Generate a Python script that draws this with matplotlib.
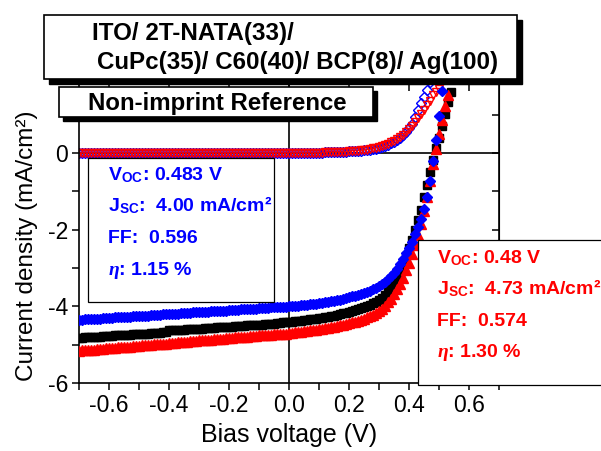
import numpy as np
import matplotlib
matplotlib.use("Agg")
import matplotlib.pyplot as plt
from matplotlib.patches import Rectangle
from matplotlib.ticker import MultipleLocator

plt.rcParams['font.family'] = ['Liberation Sans', 'DejaVu Sans']
plt.rcParams['mathtext.fontset'] = 'custom'
plt.rcParams['mathtext.rm'] = 'Liberation Sans'
plt.rcParams['mathtext.bf'] = 'Liberation Sans:bold'
plt.rcParams['mathtext.it'] = 'Liberation Serif:italic:bold'

nan = np.nan

# Bias voltage (V), 0.01 V sweep
volt = [-0.70, -0.69, -0.68, -0.67, -0.66, -0.65, -0.64, -0.63, -0.62, -0.61,
        -0.60, -0.59, -0.58, -0.57, -0.56, -0.55, -0.54, -0.53, -0.52, -0.51,
        -0.50, -0.49, -0.48, -0.47, -0.46, -0.45, -0.44, -0.43, -0.42, -0.41,
        -0.40, -0.39, -0.38, -0.37, -0.36, -0.35, -0.34, -0.33, -0.32, -0.31,
        -0.30, -0.29, -0.28, -0.27, -0.26, -0.25, -0.24, -0.23, -0.22, -0.21,
        -0.20, -0.19, -0.18, -0.17, -0.16, -0.15, -0.14, -0.13, -0.12, -0.11,
        -0.10, -0.09, -0.08, -0.07, -0.06, -0.05, -0.04, -0.03, -0.02, -0.01,
        0.00, 0.01, 0.02, 0.03, 0.04, 0.05, 0.06, 0.07, 0.08, 0.09,
        0.10, 0.11, 0.12, 0.13, 0.14, 0.15, 0.16, 0.17, 0.18, 0.19,
        0.20, 0.21, 0.22, 0.23, 0.24, 0.25, 0.26, 0.27, 0.28, 0.29,
        0.30, 0.31, 0.32, 0.33, 0.34, 0.35, 0.36, 0.37, 0.38, 0.39,
        0.40, 0.41, 0.42, 0.43, 0.44, 0.45, 0.46, 0.47, 0.48, 0.49,
        0.50, 0.51, 0.52, 0.53, 0.54]

# Current density (mA/cm2) under illumination
j_black = [-4.82, -4.82, -4.81, -4.81, -4.80, -4.80, -4.79, -4.79, -4.78, -4.78,
           -4.77, -4.77, -4.76, -4.76, -4.75, -4.75, -4.74, -4.74, -4.73, -4.73,
           -4.72, -4.72, -4.71, -4.71, -4.70, -4.70, -4.69, -4.69, -4.68, -4.67,
           -4.63, -4.63, -4.62, -4.62, -4.61, -4.61, -4.60, -4.60, -4.59, -4.59,
           -4.58, -4.58, -4.57, -4.57, -4.56, -4.56, -4.55, -4.55, -4.54, -4.54,
           -4.53, -4.53, -4.52, -4.52, -4.51, -4.51, -4.50, -4.50, -4.49, -4.49,
           -4.48, -4.48, -4.47, -4.46, -4.45, -4.45, -4.44, -4.43, -4.42, -4.42,
           -4.41, -4.40, -4.39, -4.38, -4.37, -4.36, -4.35, -4.34, -4.33, -4.32,
           -4.31, -4.30, -4.28, -4.27, -4.25, -4.24, -4.22, -4.20, -4.18, -4.17,
           -4.15, -4.13, -4.10, -4.08, -4.05, -4.02, -3.99, -3.96, -3.92, -3.88,
           -3.83, -3.77, -3.70, -3.61, -3.50, -3.38, -3.25, -3.10, -2.93, -2.70,
           -2.48, -2.27, -2.02, -1.76, -1.48, -1.15, -0.83, -0.50, -0.18, 0.12,
           0.40, 0.70, 1.02, 1.32, 1.58]

j_red = [-5.16, -5.15, -5.15, -5.14, -5.13, -5.13, -5.12, -5.11, -5.11, -5.10,
         -5.09, -5.09, -5.08, -5.07, -5.07, -5.06, -5.05, -5.05, -5.04, -5.03,
         -5.03, -5.02, -5.01, -5.01, -5.00, -4.99, -4.99, -4.98, -4.97, -4.97,
         -4.96, -4.95, -4.95, -4.94, -4.93, -4.93, -4.92, -4.91, -4.91, -4.90,
         -4.89, -4.89, -4.88, -4.87, -4.87, -4.86, -4.85, -4.85, -4.84, -4.83,
         -4.83, -4.82, -4.81, -4.81, -4.80, -4.79, -4.79, -4.78, -4.77, -4.77,
         -4.76, -4.75, -4.75, -4.74, -4.74, -4.73, -4.72, -4.72, -4.71, -4.71,
         -4.70, -4.69, -4.68, -4.67, -4.66, -4.65, -4.64, -4.63, -4.62, -4.61,
         -4.60, -4.59, -4.57, -4.56, -4.55, -4.53, -4.51, -4.50, -4.48, -4.46,
         -4.44, -4.42, -4.40, -4.38, -4.35, -4.32, -4.29, -4.26, -4.22, -4.17,
         -4.12, -4.06, -3.98, -3.90, -3.80, -3.68, -3.55, -3.42, -3.25, -3.06,
         -2.86, -2.64, -2.40, -2.14, -1.85, -1.52, -1.16, -0.74, -0.30, 0.10,
         0.50, 0.86, 1.22, 1.50, nan]

j_blue = [-4.35, -4.35, -4.34, -4.34, -4.33, -4.33, -4.32, -4.32, -4.31, -4.31,
          -4.30, -4.30, -4.29, -4.29, -4.28, -4.28, -4.27, -4.27, -4.26, -4.26,
          -4.25, -4.25, -4.24, -4.24, -4.23, -4.23, -4.22, -4.22, -4.21, -4.21,
          -4.20, -4.20, -4.19, -4.19, -4.18, -4.18, -4.17, -4.17, -4.16, -4.16,
          -4.15, -4.15, -4.14, -4.14, -4.13, -4.13, -4.12, -4.12, -4.11, -4.11,
          -4.10, -4.10, -4.09, -4.09, -4.08, -4.08, -4.07, -4.07, -4.06, -4.06,
          -4.05, -4.05, -4.04, -4.04, -4.03, -4.03, -4.02, -4.02, -4.01, -4.01,
          -4.00, -3.99, -3.99, -3.98, -3.97, -3.97, -3.96, -3.95, -3.94, -3.93,
          -3.92, -3.91, -3.90, -3.89, -3.87, -3.86, -3.84, -3.83, -3.81, -3.79,
          -3.76, -3.74, -3.72, -3.70, -3.67, -3.65, -3.62, -3.59, -3.55, -3.52,
          -3.48, -3.43, -3.37, -3.30, -3.22, -3.13, -3.02, -2.90, -2.76, -2.62,
          -2.48, -2.32, -2.12, -1.92, -1.72, -1.46, -1.14, -0.72, -0.22, 0.34,
          0.96, 1.62, 2.30, nan, nan]

# Current density (mA/cm2) in the dark
j_dark_red = [0.00, 0.00, 0.00, 0.00, 0.00, 0.00, 0.00, 0.00, 0.00, 0.00,
              0.00, 0.00, 0.00, 0.00, 0.00, 0.00, 0.00, 0.00, 0.00, 0.00,
              0.00, 0.00, 0.00, 0.00, 0.00, 0.00, 0.00, 0.00, 0.00, 0.00,
              0.00, 0.00, 0.00, 0.00, 0.00, 0.00, 0.00, 0.00, 0.00, 0.00,
              0.00, 0.00, 0.00, 0.00, 0.00, 0.00, 0.00, 0.00, 0.00, 0.00,
              0.00, 0.00, 0.00, 0.00, 0.00, 0.00, 0.00, 0.00, 0.00, 0.00,
              0.00, 0.00, 0.00, 0.00, 0.00, 0.00, 0.00, 0.00, 0.00, 0.00,
              0.00, 0.00, 0.00, 0.00, 0.00, 0.00, 0.01, 0.01, 0.01, 0.01,
              0.01, 0.01, 0.02, 0.02, 0.02, 0.02, 0.03, 0.03, 0.03, 0.03,
              0.04, 0.04, 0.05, 0.06, 0.07, 0.08, 0.09, 0.10, 0.12, 0.14,
              0.16, 0.18, 0.21, 0.24, 0.28, 0.32, 0.37, 0.42, 0.48, 0.55,
              0.62, 0.70, 0.80, 0.90, 1.02, 1.12, 1.24, 1.36, 1.50, 1.60,
              1.68, nan, nan, nan, nan]

j_dark_blue = [-0.01, -0.01, -0.01, -0.01, -0.01, -0.01, -0.01, -0.01, -0.01, -0.01,
               -0.01, -0.01, -0.01, -0.01, -0.01, -0.01, -0.01, -0.01, -0.01, -0.01,
               -0.01, -0.01, -0.01, -0.01, -0.01, -0.01, -0.01, -0.01, -0.01, -0.01,
               -0.01, -0.01, -0.01, -0.01, -0.01, -0.01, -0.01, -0.01, -0.01, -0.01,
               -0.01, -0.01, -0.01, -0.01, -0.01, -0.01, -0.01, -0.01, -0.01, -0.01,
               -0.01, -0.01, -0.01, -0.01, -0.01, -0.01, -0.01, -0.01, -0.01, -0.01,
               -0.01, -0.01, -0.01, -0.01, -0.01, -0.01, -0.01, -0.01, -0.01, -0.01,
               0.00, 0.00, 0.00, 0.00, 0.00, 0.00, 0.01, 0.01, 0.01, 0.01,
               0.01, 0.01, 0.02, 0.02, 0.02, 0.02, 0.03, 0.03, 0.03, 0.03,
               0.04, 0.04, 0.05, 0.05, 0.06, 0.07, 0.08, 0.09, 0.10, 0.11,
               0.13, 0.15, 0.18, 0.21, 0.25, 0.29, 0.34, 0.40, 0.47, 0.55,
               0.64, 0.76, 0.94, 1.12, 1.30, 1.47, 1.64, 1.84, 2.05, nan,
               nan, nan, nan, nan, nan]

title_lines = ["ITO/ 2T-NATA(33)/", "CuPc(35)/ C60(40)/ BCP(8)/ Ag(100)"]
sample_label = "Non-imprint Reference"
blue_stats = [r"V$_{\mathregular{OC}}$: 0.483 V", r"J$_{\mathregular{SC}}$:  4.00 mA/cm²",
              "FF:  0.596", r"$\eta$: 1.15 %"]
red_stats = [r"V$_{\mathregular{OC}}$: 0.48 V", r"J$_{\mathregular{SC}}$:  4.73 mA/cm²",
             "FF:  0.574", r"$\eta$: 1.30 %"]

W, H = 601, 451
fig = plt.figure(figsize=(W / 100, H / 100), dpi=100)
ax = fig.add_axes([79 / W, 1 - 383 / H, 420 / W, 299 / H])

ax.axhline(0, color='k', lw=1.2, zorder=1)
ax.axvline(0, color='k', lw=1.2, zorder=1)

ax.plot(volt, j_dark_blue, 'D', mfc='none', mec='blue', ms=5.5, mew=1.0, zorder=2)
ax.plot(volt, j_dark_red, 'v', mfc='none', mec='red', ms=6, mew=1.0, zorder=2)
ax.plot(volt, j_black, 's', color='black', ms=6, zorder=3)
ax.plot(volt, j_red, '^', color='red', ms=7, zorder=3)
ax.plot(volt, j_blue, 'D', color='blue', ms=5.5, zorder=3)

ax.set_xlim(-0.7, 0.7)
ax.set_ylim(-6, 1.8)
ax.xaxis.set_minor_locator(MultipleLocator(0.1))
ax.yaxis.set_minor_locator(MultipleLocator(1))
ax.set_xticks([-0.6, -0.4, -0.2, 0.0, 0.2, 0.4, 0.6])
ax.set_xticklabels(['-0.6', '-0.4', '-0.2', '0.0', '0.2', '0.4', '0.6'])
ax.set_yticks([-6, -4, -2, 0])
ax.set_yticklabels(['-6', '-4', '-2', '0'])
ax.tick_params(which='both', direction='out', length=5, width=1.1, labelsize=16.5, pad=3)
for s in ax.spines.values():
    s.set_linewidth(1.2)

top = ax.secondary_xaxis('top')
top.xaxis.set_major_locator(MultipleLocator(0.2))
top.tick_params(direction='in', length=5, width=1.1, labeltop=False)
right = ax.secondary_yaxis('right')
right.yaxis.set_major_locator(MultipleLocator(1))
right.tick_params(direction='in', length=5, width=1.1, labelright=False)

ax.set_xlabel("Bias voltage (V)", fontsize=18, labelpad=4)
ax.set_ylabel("Current density (mA/cm²)", fontsize=17.5)
ax.yaxis.set_label_coords(-0.098, 0.46)


def px_box(x0, y0, x1, y1, shadow=0, lw=1.2):
    # rectangle given in pixel coords (top-left origin)
    if shadow:
        fig.patches.append(Rectangle((x0 / W + shadow / W, 1 - (y1 + shadow) / H),
                                     (x1 - x0) / W, (y1 - y0) / H,
                                     transform=fig.transFigure, facecolor='black',
                                     edgecolor='black', zorder=10))
    fig.patches.append(Rectangle((x0 / W, 1 - y1 / H), (x1 - x0) / W, (y1 - y0) / H,
                                 transform=fig.transFigure, facecolor='white',
                                 edgecolor='black', lw=lw, zorder=11))


def px_text(x, y, s, **kw):
    fig.text(x / W, 1 - y / H, s, va='baseline', ha='left', zorder=12, **kw)


px_box(44, 15, 517, 79, shadow=5)
px_text(92, 40, title_lines[0], fontsize=17.4, fontweight='bold')
px_text(97, 69, title_lines[1], fontsize=17.4, fontweight='bold')

px_box(59, 87, 373, 117, shadow=4)
px_text(88, 110, sample_label, fontsize=17.3, fontweight='bold')

px_box(88, 158, 274, 302, lw=0.9)
for i, s in enumerate(blue_stats):
    px_text(108, 180 + 31.7 * i, s, fontsize=14, fontweight='bold', color='blue')

px_box(418, 240, 620, 385, lw=0.9)
for i, s in enumerate(red_stats):
    px_text(437, 263 + 31.3 * i, s, fontsize=14, fontweight='bold', color='red')

fig.savefig("out.png", dpi=100)
